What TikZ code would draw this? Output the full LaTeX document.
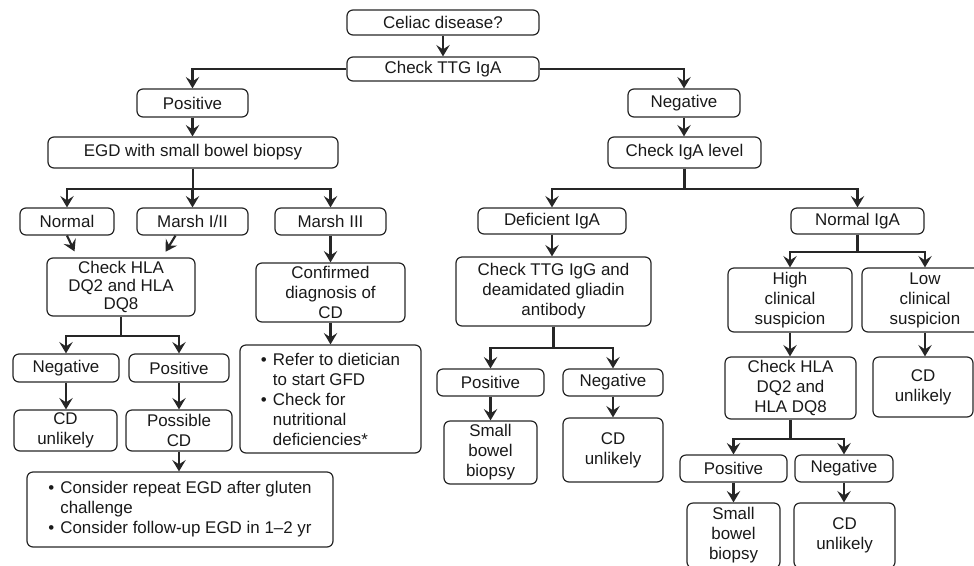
\documentclass[tikz,border=0pt]{standalone}
\usepackage{fontspec}
\setmainfont{Liberation Sans}
\usetikzlibrary{arrows.meta,calc}

% bullet lines in the two list boxes
\newcommand{\bitem}{\makebox[9pt][l]{\textbullet}}
\newcommand{\bcont}{\hspace*{9pt}}

\tikzset{
  blk/.style={draw=black!85, line width=0.9pt, rounded corners=4.5pt, align=center,
    inner sep=1pt, text=black!90, font=\fontsize{12.7pt}{15pt}\selectfont},
  sz/.style 2 args={minimum width=#1*0.75pt, minimum height=#2*0.75pt},
  ln/.style={draw=black!85, line width=1.6pt},
  arr/.style={ln, -{Stealth[length=8.5pt,width=10pt,inset=3.2pt]}}
}

\begin{document}
\begin{tikzpicture}[x=0.75pt, y=-0.75pt]
  \useasboundingbox (0,0) rectangle (974,565);
  \clip (0,0) rectangle (974,565);

  % top
  \node[blk, sz={192}{25}] (celiac) at (443,22.5) {Celiac disease?};
  \node[blk, sz={192}{24}] (ttg) at (443,69) {Check TTG IgA};
  \node[blk, sz={111}{28}] (pos) at (192.5,103) {Positive};
  \node[blk, sz={290}{31}] (egd) at (193,152.5) {EGD with small bowel biopsy};
  \node[blk, sz={112}{28}] (neg) at (684,103) {Negative};
  \node[blk, sz={153}{31}] (iga) at (684.5,152.5) {Check IgA level};

  % biopsy results
  \node[blk, sz={94}{27}] (normal) at (67,221.5) {Normal};
  \node[blk, sz={111}{27}] (marshA) at (192.5,221.5) {Marsh I/II};
  \node[blk, sz={111}{27}] (marshB) at (330.5,221.5) {Marsh III};
  \node[blk, sz={148}{58}, font=\fontsize{12.7pt}{13.5pt}\selectfont] (hlaA) at (121,287) {Check HLA\\DQ2 and HLA\\DQ8};
  \node[blk, sz={106}{28}] (negA) at (66,368) {Negative};
  \node[blk, sz={100}{28}] (posA) at (179,368) {Positive};
  \node[blk, sz={103}{41}] (cdA) at (65.5,430.5) {CD\\unlikely};
  \node[blk, sz={106}{41}] (possA) at (179,430.5) {Possible\\CD};
  \node[blk, sz={306}{75}, align=left] (follow) at (180,509.5)
    {\bitem Consider repeat EGD after gluten\\\bcont challenge\\\bitem Consider follow-up EGD in 1–2 yr};
  \node[blk, sz={149}{59}] (conf) at (330.5,292.5) {Confirmed\\diagnosis of\\CD};
  \node[blk, sz={181}{108}, align=left] (refer) at (330.5,399)
    {\bitem Refer to dietician\\\bcont to start GFD\\\bitem Check for\\\bcont nutritional\\\bcont deficiencies*};

  % IgA level
  \node[blk, sz={148}{26}] (defic) at (552,221) {Deficient IgA};
  \node[blk, sz={195}{69}] (ttgg) at (553.5,291.5) {Check TTG IgG and\\deamidated gliadin\\antibody};
  \node[blk, sz={107}{27}] (posB) at (490.5,382.5) {Positive};
  \node[blk, sz={100}{27}] (negB) at (613,382.5) {Negative};
  \node[blk, sz={93}{63}] (sbbB) at (490.5,452.5) {Small\\bowel\\biopsy};
  \node[blk, sz={100}{64}] (cdB) at (613,450) {CD\\unlikely};
  \node[blk, sz={133}{26}] (normiga) at (857.5,221) {Normal IgA};
  \node[blk, sz={124}{64}] (high) at (790,300) {High\\clinical\\suspicion};
  \node[blk, sz={126}{64}] (low) at (925,300) {Low\\clinical\\suspicion};
  \node[blk, sz={131}{62}] (hlaB) at (790.5,388) {Check HLA\\DQ2 and\\HLA DQ8};
  \node[blk, sz={100}{60}] (cdC) at (923,387) {CD\\unlikely};
  \node[blk, sz={107}{27}] (posC) at (733.5,468.5) {Positive};
  \node[blk, sz={98}{27}] (negC) at (844,468.5) {Negative};
  \node[blk, sz={93}{65}] (sbbC) at (733.5,535.5) {Small\\bowel\\biopsy};
  \node[blk, sz={101}{65}] (cdD) at (844.5,535.5) {CD\\unlikely};

  % connectors
  \draw[arr] (ttg.west) -| (pos.north);
  \draw[arr] (ttg.east) -| (neg.north);
  \foreach \a/\b in {celiac/ttg, pos/egd, neg/iga, marshB/conf, conf/refer,
      negA/cdA, posA/possA, possA/follow, defic/ttgg, posB/sbbB, negB/cdB,
      high/hlaB, low/cdC, posC/sbbC, negC/cdD}
    \draw[arr] (\a.south) -- (\a.south |- \b.north);

  % forks
  \path (egd.south) ++(0,20) coordinate (fa);
  \path (iga.south) ++(0,20) coordinate (fb);
  \path (hlaA.south) ++(0,19) coordinate (fc);
  \path (ttgg.south) ++(0,21) coordinate (fd);
  \path (normiga.south) ++(0,17) coordinate (fe);
  \path (hlaB.south) ++(0,19) coordinate (ff);
  \foreach \p/\q in {egd/fa, iga/fb, hlaA/fc, ttgg/fd, normiga/fe, hlaB/ff}
    \draw[ln] (\p.south) -- (\q);
  \foreach \q/\c in {fa/normal, fa/marshA, fa/marshB, fb/defic, fb/normiga,
      fc/negA, fc/posA, fd/posB, fd/negB, fe/high, fe/low, ff/posC, ff/negC}
    \draw[arr] (\q) -| (\c.north);

  % slanted ones into the HLA box
  \draw[arr, shorten >=5pt] (normal.south) -- ($(hlaA.north west)+(31,0)$);
  \draw[arr, shorten >=5pt] ($(marshA.south)+(-17,0)$) -- ($(hlaA.north east)+(-33.5,0)$);
\end{tikzpicture}
\end{document}
